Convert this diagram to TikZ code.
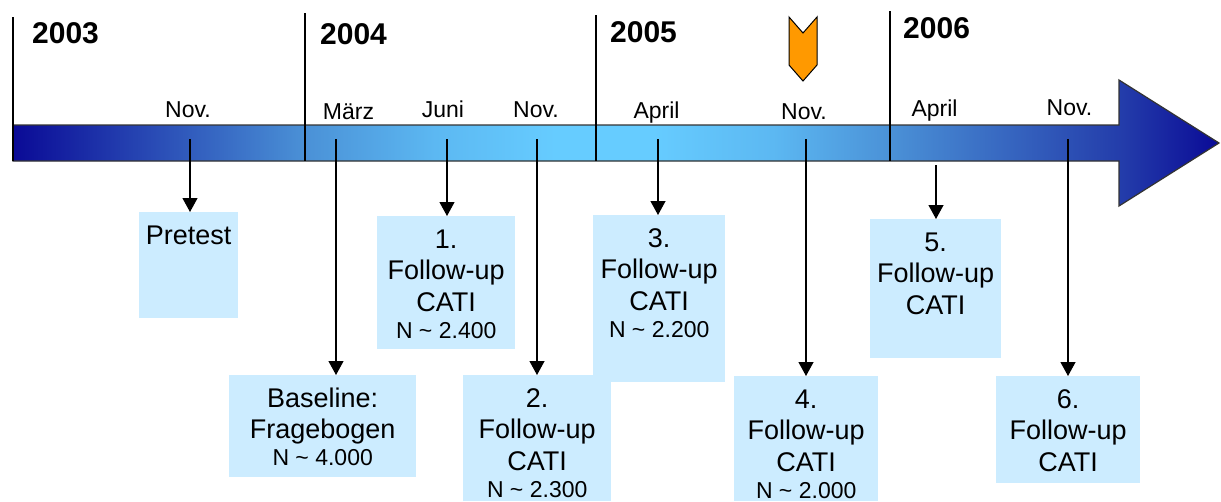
\documentclass[tikz,border=0pt]{standalone}
\usepackage{fontspec}
\setmainfont{Liberation Sans}
\usepackage{tikz}
\usetikzlibrary{positioning,calc,arrows,arrows.meta}
\definecolor{barDark}{RGB}{10,10,150}
\definecolor{barMid}{RGB}{74,144,214}
\definecolor{barPale}{RGB}{92,184,242}
\definecolor{barLight}{RGB}{102,204,255}
\definecolor{barEnd}{RGB}{35,60,170}
\definecolor{boxBlue}{RGB}{204,236,255}
\definecolor{markOrange}{RGB}{255,153,0}
\pgfdeclarehorizontalshading{barshade}{100bp}{color(0bp)=(barDark); color(25bp)=(barDark); color(37bp)=(barMid);
	color(42.5bp)=(barPale); color(47.5bp)=(barLight); color(51.5bp)=(barLight); color(56.5bp)=(barPale);
	color(61.5bp)=(barMid); color(71bp)=(barEnd); color(75bp)=(barDark); color(100bp)=(barDark)}
\newcommand{\bt}[3]{\parbox[t][#2][t]{#1}{\centering\rule{0pt}{32pt}#3}}
\newcommand{\bn}[1]{\par{\fontsize{23}{27}\selectfont N \textasciitilde{} #1\par}}
\tikzstyle{block} = [fill=boxBlue, inner sep=0pt, anchor=north west, font=\fontsize{27}{31.5}\selectfont]
\tikzstyle{month} = [anchor=base, inner sep=0pt, font=\fontsize{23}{28}\selectfont]
\tikzstyle{year} = [anchor=base west, inner sep=0pt, font=\fontsize{30}{36}\selectfont\bfseries]
\tikzstyle{yline} = [line width=1.3pt]
\tikzstyle{to} = [-{Triangle[width=15pt,length=14pt]}, line width=1.2pt]
\begin{document}
\begin{tikzpicture}[x=1pt, y=1pt]
		\useasboundingbox (0,0) rectangle (1221,-501);
		\shadedraw[shading=barshade, draw=black!80, line width=1.2pt]
			(13,-125) -- (1119,-125) -- (1119,-80) -- (1219,-143) -- (1119,-206) -- (1119,-161) -- (13,-161) -- cycle;
		\foreach \x/\t in {13/17, 305/13, 596/15, 890/11}
			\draw[yline] (\x,-\t) -- (\x,-161);
		\node (y03) [year] at (32,-43) {2003};
		\node (y04) [year] at (320,-44) {2004};
		\node (y05) [year] at (610,-42) {2005};
		\node (y06) [year] at (903,-38) {2006};
		\draw[fill=markOrange, line width=1pt] (789,-17) -- (803,-33) -- (817,-17) -- (817,-65) -- (803,-81) -- (789,-65) -- cycle;
		\node (m1) [month] at (188,-117) {Nov.};
		\node (m2) [month] at (348.5,-119) {März};
		\node (m3) [month] at (443,-117) {Juni};
		\node (m4) [month] at (536,-117) {Nov.};
		\node (m5) [month] at (656.5,-118) {April};
		\node (m6) [month] at (804,-119) {Nov.};
		\node (m7) [month] at (934.5,-116) {April};
		\node (m8) [month] at (1069.5,-115) {Nov.};
		\coordinate (t1) at (190,-139);
		\coordinate (t2) at (336,-139);
		\coordinate (t3) at (447,-139);
		\coordinate (t4) at (537,-139);
		\coordinate (t5) at (658,-139);
		\coordinate (t6) at (806,-139);
		\coordinate (t7) at (936,-165);
		\coordinate (t8) at (1068,-139);
		\node (pre) [block] at (139,-212) {\bt{99pt}{106pt}{Pretest}};
		\node (base) [block] at (229,-375) {\bt{187pt}{102pt}{Baseline:\\Fragebogen\bn{4.000}}};
		\node (fu1) [block] at (377,-216) {\bt{138pt}{133pt}{1.\\Follow-up\\CATI\bn{2.400}}};
		\node (fu2) [block] at (463,-375) {\bt{148pt}{126pt}{2.\\Follow-up\\CATI\bn{2.300}}};
		\node (fu3) [block] at (593,-215) {\bt{132pt}{167pt}{3.\\Follow-up\\CATI\bn{2.200}}};
		\node (fu4) [block] at (734,-376) {\bt{144pt}{125pt}{4.\\Follow-up\\CATI\bn{2.000}}};
		\node (fu5) [block] at (870,-219) {\bt{131pt}{139pt}{5.\\Follow-up\\CATI}};
		\node (fu6) [block] at (996,-376) {\bt{144pt}{107pt}{6.\\Follow-up\\CATI}};
		\draw[to] (t1) -- (t1 |- pre.north);
		\draw[to] (t2) -- (t2 |- base.north);
		\draw[to] (t3) -- (t3 |- fu1.north);
		\draw[to] (t4) -- (t4 |- fu2.north);
		\draw[to] (t5) -- (t5 |- fu3.north);
		\draw[to] (t6) -- (t6 |- fu4.north);
		\draw[to] (t7) -- (t7 |- fu5.north);
		\draw[to] (t8) -- (t8 |- fu6.north);
\end{tikzpicture}
\end{document}
